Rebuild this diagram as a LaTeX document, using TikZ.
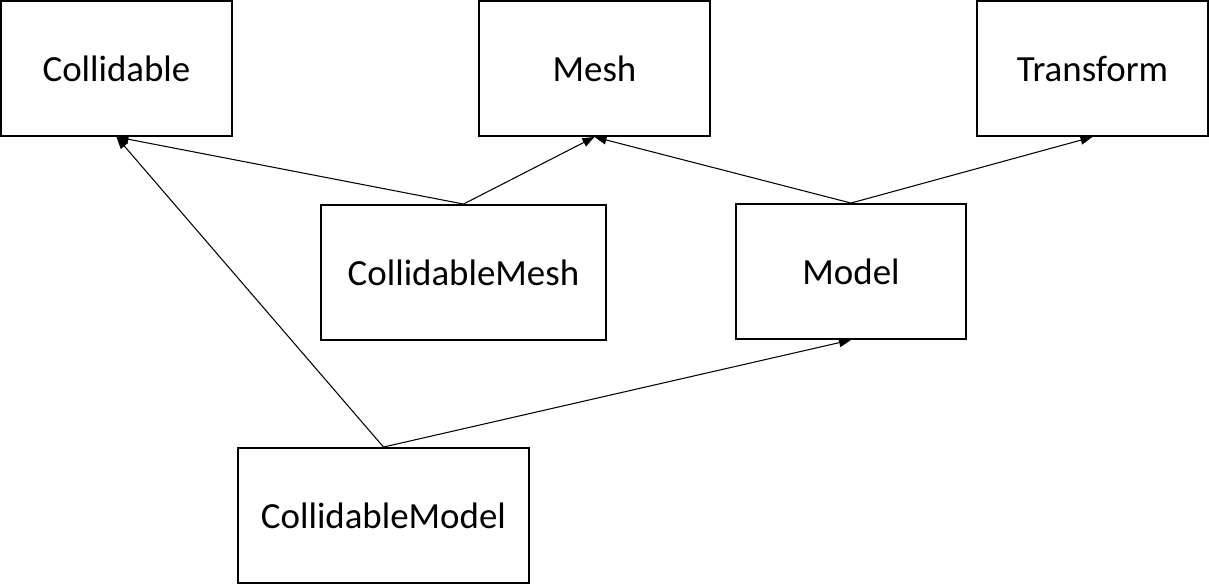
\documentclass[tikz,border=0pt]{standalone}
\usepackage{fontspec}
\setmainfont{Carlito}
\usepackage{tikz}
\usetikzlibrary{arrows.meta}

\begin{document}
\begin{tikzpicture}[x=0.02cm,y=-0.02cm]
\tikzstyle{every node}=[font=\fontsize{21}{25}\selectfont]
\tikzstyle{classbox}=[draw, line width=1.1pt, inner sep=0pt, minimum height=2.7cm]
\tikzstyle{inherit}=[-{Triangle[length=0.24cm,width=0.18cm]}, line width=0.6pt]
\useasboundingbox (0,0) rectangle (1209,585);
% top row
\node [classbox, minimum width=4.62cm] (coll) at (116.5,68.5) {Collidable};
\node [classbox, minimum width=4.62cm] (mesh) at (594.5,68.5) {Mesh};
\node [classbox, minimum width=4.62cm] (trans) at (1092.5,68.5) {Transform};
% middle row
\node [classbox, minimum width=5.7cm] (cmesh) at (463.5,272.5) {CollidableMesh};
\node [classbox, minimum width=4.6cm] (model) at (851,271.5) {Model};
% bottom
\node [classbox, minimum width=5.82cm] (cmodel) at (383.5,515.5) {CollidableModel};
% inheritance
\draw [inherit] (cmesh.north) -- (coll.south);
\draw [inherit] (cmesh.north) -- (mesh.south);
\draw [inherit] (model.north) -- (mesh.south);
\draw [inherit] (model.north) -- (trans.south);
\draw [inherit] (cmodel.north) -- (coll.south);
\draw [inherit] (cmodel.north) -- (model.south);
\end{tikzpicture}
\end{document}
